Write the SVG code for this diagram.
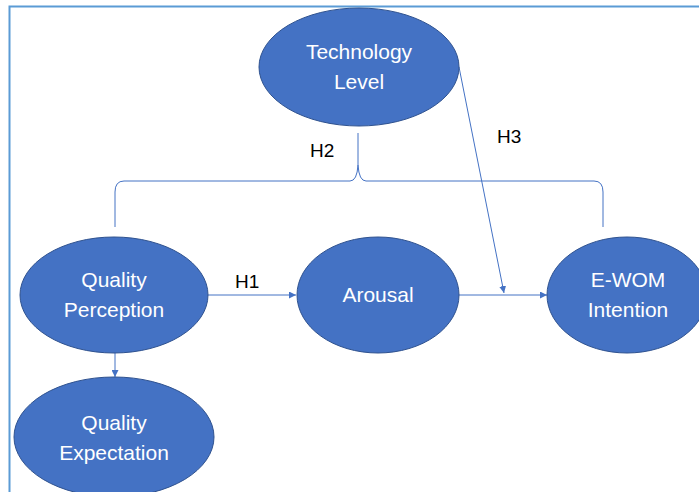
<svg xmlns="http://www.w3.org/2000/svg" width="699" height="492" viewBox="0 0 699 492">
<style>
.node ellipse{fill:#4472C4;stroke:#2F528F;stroke-width:1}
.node text{fill:#fff;font-family:"Liberation Sans",Arial,sans-serif;font-size:21px;text-anchor:middle}
.lbl{fill:#000;font-family:"Liberation Sans",Arial,sans-serif;font-size:19px}
.conn{fill:none;stroke:#4472C4;stroke-width:1}
</style>
<defs>
<marker id="arr" viewBox="0 0 10 10" refX="10" refY="5" markerWidth="7" markerHeight="7" markerUnits="userSpaceOnUse" orient="auto">
<path d="M0,0 L10,5 L0,10 z" fill="#4472C4"/>
</marker>
</defs>
<rect x="0" y="0" width="699" height="492" fill="#fff"/>
<rect x="9.5" y="6.5" width="700" height="500" fill="none" stroke="#5B9BD5" stroke-width="2"/>
<g id="connectors">
<path class="conn" d="M115,227 L115,192 Q115,181 124,181 L350,181 Q357,181 358,165 L358,133"/>
<path class="conn" d="M358,165 Q359,181 366,181 L594,181 Q603,181 603,192 L603,227"/>
<line class="conn" x1="208" y1="295" x2="296" y2="295" marker-end="url(#arr)"/>
<line class="conn" x1="459" y1="295" x2="547" y2="295" marker-end="url(#arr)"/>
<line class="conn" x1="115" y1="353" x2="115" y2="377" marker-end="url(#arr)"/>
<line class="conn" x1="459" y1="67" x2="504" y2="293" marker-end="url(#arr)"/>
</g>
<text class="lbl" x="235" y="288">H1</text>
<text class="lbl" x="310" y="157">H2</text>
<text class="lbl" x="497" y="143">H3</text>
<g id="tech" class="node">
<ellipse cx="359" cy="67" rx="100" ry="59"/>
<text x="359" y="59">Technology</text>
<text x="359" y="89">Level</text>
</g>
<g id="qp" class="node">
<ellipse cx="114" cy="295" rx="94" ry="58"/>
<text x="114" y="287">Quality</text>
<text x="114" y="317">Perception</text>
</g>
<g id="arousal" class="node">
<ellipse cx="378" cy="295" rx="81" ry="58"/>
<text x="378" y="302">Arousal</text>
</g>
<g id="ewom" class="node">
<ellipse cx="627" cy="295" rx="80" ry="58"/>
<text x="628" y="287">E-WOM</text>
<text x="628" y="317">Intention</text>
</g>
<g id="qe" class="node">
<ellipse cx="114" cy="437" rx="100" ry="60"/>
<text x="114" y="430">Quality</text>
<text x="114" y="460">Expectation</text>
</g>
</svg>
